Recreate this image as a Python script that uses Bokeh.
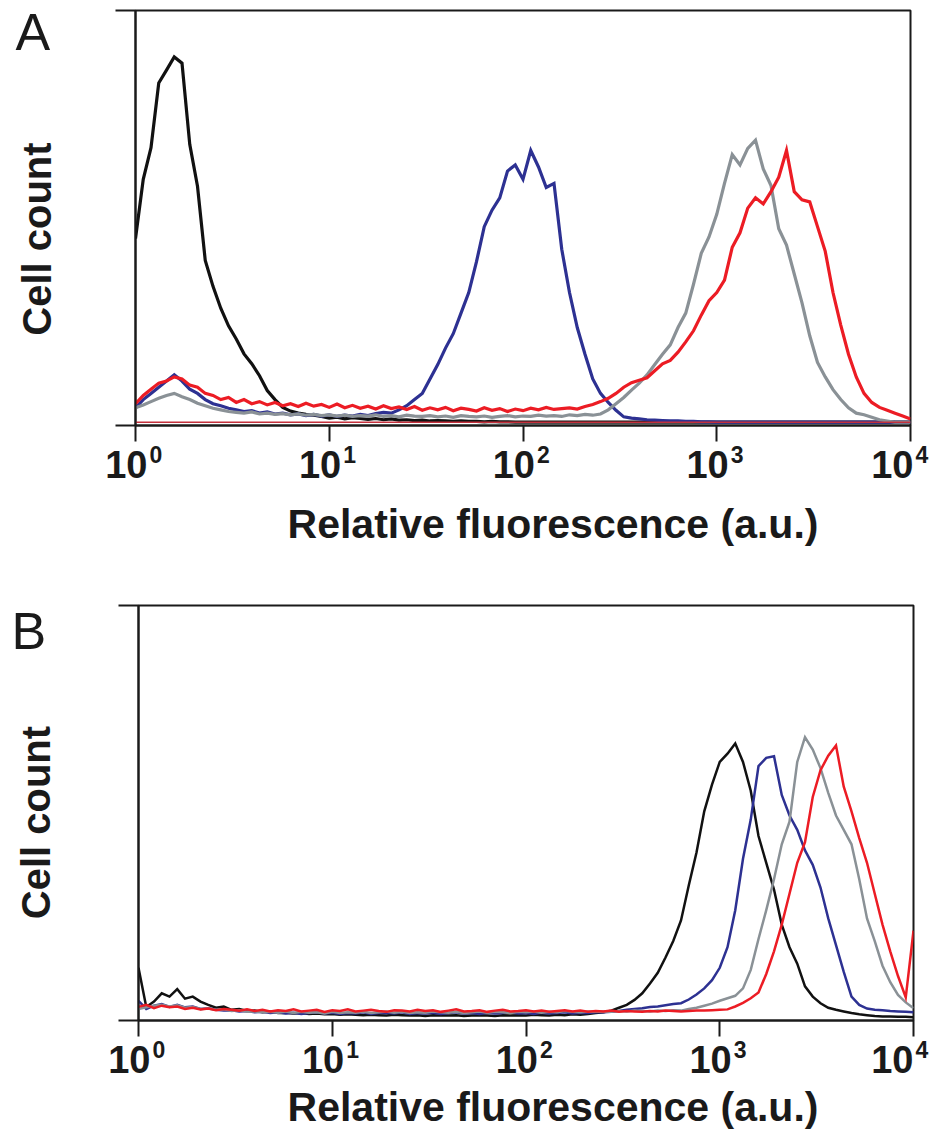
import math
from bokeh.plotting import figure
from bokeh.models import Range1d, FixedTicker, LinearScale
from bokeh.layouts import column, row
from bokeh.core.properties import value
from bokeh.embed import file_html
from bokeh.resources import INLINE

# ---------------- data ----------------
# log10 of relative fluorescence for each histogram channel bin
log10_fluor = [
    0.00, 0.04, 0.08, 0.12, 0.16, 0.20, 0.24, 0.28, 0.32, 0.36,
    0.40, 0.44, 0.48, 0.52, 0.56, 0.60, 0.64, 0.68, 0.72, 0.76,
    0.80, 0.84, 0.88, 0.92, 0.96, 1.00, 1.04, 1.08, 1.12, 1.16,
    1.20, 1.24, 1.28, 1.32, 1.36, 1.40, 1.44, 1.48, 1.52, 1.56,
    1.60, 1.64, 1.68, 1.72, 1.76, 1.80, 1.84, 1.88, 1.92, 1.96,
    2.00, 2.04, 2.08, 2.12, 2.16, 2.20, 2.24, 2.28, 2.32, 2.36,
    2.40, 2.44, 2.48, 2.52, 2.56, 2.60, 2.64, 2.68, 2.72, 2.76,
    2.80, 2.84, 2.88, 2.92, 2.96, 3.00, 3.04, 3.08, 3.12, 3.16,
    3.20, 3.24, 3.28, 3.32, 3.36, 3.40, 3.44, 3.48, 3.52, 3.56,
    3.60, 3.64, 3.68, 3.72, 3.76, 3.80, 3.84, 3.88, 3.92, 3.96,
    4.00,
]

# Panel A cell counts (relative, 0-100 = full frame height)
a_black = [
    44.6, 59.0, 66.7, 82.4, 85.5, 88.7, 87.2, 67.5, 57.3, 39.3,
    33.0, 27.7, 23.4, 20.2, 16.6, 14.2, 11.3, 7.7, 5.5, 3.6,
    2.7, 2.2, 1.9, 1.7, 1.4, 1.0, 1.2, 0.8, 1.1, 0.9,
    0.7, 0.9, 0.6, 0.8, 0.5, 0.6, 0.4, 0.5, 0.3, 0.4,
    0.3, 0.2, 0.3, 0.2, 0.2, 0.1, 0.2, 0.1, 0.1, 0.0,
    0.0, 0.0, 0.0, 0.0, 0.0, 0.0, 0.0, 0.0, 0.0, 0.0,
    0.0, 0.0, 0.0, 0.0, 0.0, 0.0, 0.0, 0.0, 0.0, 0.0,
    0.0, 0.0, 0.0, 0.0, 0.0, 0.0, 0.0, 0.0, 0.0, 0.0,
    0.0, 0.0, 0.0, 0.0, 0.0, 0.0, 0.0, 0.0, 0.0, 0.0,
    0.0, 0.0, 0.0, 0.0, 0.0, 0.0, 0.0, 0.0, 0.0, 0.0,
    0.0,
]
a_blue = [
    3.5, 5.5, 7.0, 8.5, 10.0, 11.5, 10.0, 8.0, 7.0, 5.5,
    4.5, 4.0, 3.4, 3.0, 2.6, 2.8, 2.2, 2.5, 2.0, 2.2,
    1.8, 2.0, 1.6, 1.9, 1.5, 1.8, 1.4, 1.7, 1.5, 1.9,
    1.6, 2.1, 2.4, 2.2, 3.0, 4.0, 5.5, 7.0, 10.5, 14.0,
    18.0, 21.5, 26.5, 31.5, 39.0, 47.5, 51.5, 54.5, 61.0, 62.5,
    59.0, 66.0, 62.0, 57.0, 58.0, 42.0, 31.5, 23.0, 16.5, 10.5,
    7.0, 4.8, 2.9, 1.3, 1.0, 0.8, 0.6, 0.5, 0.4, 0.3,
    0.3, 0.2, 0.2, 0.1, 0.1, 0.0, 0.0, 0.0, 0.0, 0.0,
    0.0, 0.0, 0.0, 0.0, 0.0, 0.0, 0.0, 0.0, 0.0, 0.0,
    0.0, 0.0, 0.0, 0.0, 0.0, 0.0, 0.0, 0.0, 0.0, 0.0,
    0.0,
]
a_gray = [
    3.5, 4.2, 5.0, 5.8, 6.5, 7.0, 6.2, 5.5, 4.6, 4.0,
    3.4, 3.0, 2.6, 2.4, 2.2, 2.5, 2.0, 2.2, 1.9, 2.1,
    1.8, 2.0, 1.7, 1.9, 1.6, 1.8, 1.5, 1.7, 1.4, 1.6,
    1.5, 1.8, 1.4, 1.6, 1.3, 1.7, 1.5, 1.4, 1.6, 1.3,
    1.5, 1.2, 1.6, 1.4, 1.3, 1.5, 1.2, 1.4, 1.6, 1.3,
    1.5, 1.4, 1.7, 1.5, 1.6, 1.4, 1.8, 1.6, 1.9, 1.7,
    2.0, 3.0, 4.5, 6.0, 7.8, 9.5, 11.5, 14.0, 16.5, 18.8,
    23.0, 26.5, 33.5, 41.0, 45.0, 50.5, 58.0, 65.0, 62.5, 66.5,
    68.5, 61.5, 57.5, 47.0, 43.0, 36.0, 29.0, 21.0, 14.5, 11.0,
    7.9, 5.5, 3.5, 2.2, 1.8, 1.2, 0.6, 0.3, 0.0, 0.0,
    0.0,
]
a_red = [
    4.5, 6.5, 8.0, 9.5, 10.0, 11.0, 10.5, 9.0, 8.5, 7.0,
    6.5, 5.5, 6.0, 4.8, 5.5, 4.5, 5.0, 4.2, 4.8, 4.0,
    4.5, 3.8, 4.6, 3.9, 4.3, 3.6, 4.4, 3.5, 4.1, 3.4,
    3.9, 3.2, 4.0, 3.3, 3.7, 3.1, 3.8, 2.9, 3.5, 3.0,
    3.6, 2.8, 3.4, 3.1, 2.7, 3.5, 2.9, 3.3, 2.6, 3.2,
    2.8, 3.4, 3.0, 3.6, 3.1, 3.3, 3.5, 3.2, 3.8, 4.3,
    5.0, 5.8, 7.0, 8.5, 9.6, 10.2, 10.8, 12.5, 14.2, 15.0,
    17.0, 19.5, 22.2, 26.0, 29.5, 31.5, 34.5, 42.5, 46.0, 52.0,
    54.5, 53.0, 56.0, 59.5, 66.0, 56.0, 54.0, 53.5, 47.5, 41.5,
    31.5, 23.6, 16.5, 11.0, 7.0, 4.8, 3.6, 2.9, 2.2, 1.5,
    0.8,
]

# Panel B cell counts
b_black = [
    12.0, 2.5, 3.8, 5.8, 5.0, 6.8, 4.5, 5.0, 3.8, 3.0,
    2.3, 2.6, 1.8, 2.0, 1.5, 1.6, 1.2, 1.4, 1.0, 1.1,
    0.9, 1.0, 0.8, 0.9, 0.7, 0.8, 0.6, 0.7, 0.6, 0.5,
    0.6, 0.5, 0.4, 0.6, 0.5, 0.4, 0.5, 0.3, 0.5, 0.4,
    0.4, 0.5, 0.3, 0.4, 0.5, 0.4, 0.3, 0.5, 0.4, 0.5,
    0.4, 0.6, 0.5, 0.4, 0.6, 0.5, 0.7, 0.6, 0.8, 1.0,
    1.2, 1.6, 2.3, 3.0, 4.2, 5.8, 8.2, 10.8, 14.5, 18.5,
    23.5, 32.0, 40.0, 50.0, 56.5, 62.0, 64.0, 66.5, 62.0, 55.0,
    44.0, 37.5, 31.0, 22.5, 17.0, 13.0, 7.5, 5.0, 3.4, 2.3,
    1.8, 1.4, 1.0, 0.7, 0.5, 0.3, 0.2, 0.2, 0.1, 0.1,
    0.0,
]
b_blue = [
    4.0, 2.0, 2.8, 3.2, 2.5, 3.0, 2.4, 2.6, 2.0, 2.2,
    1.8, 1.6, 1.7, 1.4, 1.5, 1.2, 1.3, 1.0, 1.2, 0.9,
    1.1, 0.8, 1.0, 1.2, 0.9, 1.1, 0.8, 1.0, 0.9, 1.2,
    0.8, 1.0, 1.1, 0.9, 1.2, 0.8, 1.0, 0.9, 1.1, 0.8,
    1.0, 1.2, 0.9, 1.0, 0.8, 1.1, 0.9, 1.0, 1.2, 0.9,
    1.0, 0.8, 1.1, 0.9, 1.0, 1.2, 0.9, 1.1, 1.0, 1.2,
    1.2, 1.3, 1.5, 1.8, 2.0, 2.2, 2.5, 2.6, 2.9, 3.2,
    3.4, 4.3, 5.5, 7.0, 9.0, 12.0, 17.0, 26.0, 38.5, 48.0,
    61.0, 63.0, 63.4, 54.0, 49.0, 45.5, 40.5, 37.0, 31.5, 24.0,
    17.5, 11.0, 5.0, 3.0, 2.1, 1.8, 1.7, 1.5, 1.4, 1.3,
    1.2,
]
b_gray = [
    2.0, 2.4, 2.8, 3.0, 2.6, 2.9, 2.3, 2.5, 2.0, 2.1,
    1.8, 1.9, 1.5, 1.7, 1.3, 1.4, 1.2, 1.3, 1.1, 1.4,
    1.0, 1.3, 1.1, 1.2, 0.9, 1.3, 1.0, 1.2, 1.1, 1.3,
    1.0, 1.2, 1.4, 1.1, 1.3, 1.0, 1.2, 1.1, 1.4, 1.2,
    1.1, 1.3, 1.0, 1.2, 1.4, 1.1, 1.3, 1.2, 1.0, 1.3,
    1.2, 1.4, 1.1, 1.3, 1.2, 1.5, 1.3, 1.2, 1.4, 1.3,
    1.4, 1.3, 1.5, 1.4, 1.6, 1.5, 1.4, 1.6, 1.5, 1.7,
    1.6, 2.0, 2.3, 2.8, 3.3, 4.0, 4.6, 5.2, 7.0, 11.5,
    19.0, 26.0, 33.5, 42.0, 47.5, 62.0, 68.0, 65.0, 60.5, 54.5,
    49.0, 45.5, 42.0, 33.5, 24.0, 18.5, 12.5, 8.5, 5.4, 3.6,
    2.2,
]
b_red = [
    2.5, 3.0, 2.2, 2.8, 2.4, 2.6, 2.0, 2.3, 1.9, 2.1,
    1.7, 2.0, 1.8, 1.6, 1.9, 1.5, 1.8, 1.4, 1.7, 1.5,
    1.9, 1.4, 1.6, 1.8, 1.3, 1.7, 1.5, 1.9, 1.4, 1.6,
    1.8, 1.5, 1.3, 1.7, 1.6, 1.4, 1.8, 1.5, 1.7, 1.3,
    1.6, 1.9, 1.4, 1.5, 1.7, 1.3, 1.6, 1.8, 1.4, 1.5,
    1.7, 1.4, 1.6, 1.3, 1.5, 1.7, 1.4, 1.6, 1.3, 1.5,
    1.4, 1.6, 1.3, 1.5, 1.4, 1.3, 1.5, 1.4, 1.6, 1.5,
    1.4, 1.5, 1.6, 1.6, 1.7, 1.8, 1.9, 2.6, 3.5, 4.6,
    6.0, 10.5, 16.0, 22.5, 30.0, 37.5, 42.5, 53.5, 60.0, 63.5,
    66.0, 56.0, 50.0, 43.5, 37.5, 30.0, 22.5, 16.0, 10.0, 4.8,
    21.0,
]

tick_values = [1, 10, 100, 1000, 10000]
tick_base = "10"
tick_exponents = ["0", "1", "2", "3", "4"]
x_label = "Relative fluorescence (a.u.)"
y_label = "Cell count"

fluor = [10 ** v for v in log10_fluor]

# ---------------- style / geometry ----------------
INK = "#1a1a1a"
C_BLACK = "#111111"
C_BLUE = "#2d3192"
C_GRAY = "#8a9196"
C_RED = "#ec1c24"
FONT = value("Liberation Sans")
Y0, Y1 = -0.8, 100.0
W = 930          # total width
LW = 60          # width of the strip holding panel letter + y title
FW, FH = 775, 415
DEC = FW / 4.0   # pixels per decade
MID = 0.35       # distance baseline -> text middle, in em


def strip(width, height, **kw):
    s = figure(width=width, height=height, min_border=0, title=None,
               x_axis_location=None, y_axis_location=None,
               toolbar_location=None, output_backend="svg",
               outline_line_color=None, background_fill_color="white",
               border_fill_color="white", **kw)
    s.grid.visible = False
    return s


def main_panel(series, lw, b_left, b_top, height, red_base=False):
    p = figure(
        width=W - LW, height=height, title=None,
        x_axis_type="log",
        x_range=Range1d(1, 10000),
        y_range=Range1d(Y0, Y1),
        min_border_left=b_left, min_border_top=b_top,
        min_border_bottom=height - b_top - FH,
        min_border_right=W - LW - b_left - FW,
        output_backend="svg", toolbar_location=None,
        background_fill_color="white", border_fill_color="white",
    )
    p.xgrid.visible = False
    p.ygrid.visible = False
    p.outline_line_color = INK
    p.outline_line_width = 2

    xa = p.xaxis[0]
    xa.ticker = FixedTicker(ticks=tick_values, minor_ticks=[])
    xa.major_label_overrides = {t: "" for t in tick_values}
    xa.major_label_text_font_size = "1px"
    xa.major_label_standoff = 0
    xa.axis_line_color = INK
    xa.axis_line_width = 2
    xa.major_tick_line_color = INK
    xa.major_tick_line_width = 2
    xa.major_tick_out = 16
    xa.major_tick_in = 0
    xa.minor_tick_out = 0
    xa.minor_tick_in = 0

    ya = p.yaxis[0]
    ya.ticker = FixedTicker(ticks=[Y0, Y1], minor_ticks=[])
    ya.major_label_overrides = {Y0: "", Y1: ""}
    ya.major_label_text_font_size = "1px"
    ya.major_label_standoff = 0
    ya.axis_line_color = INK
    ya.axis_line_width = 2
    ya.major_tick_line_color = INK
    ya.major_tick_line_width = 2
    ya.major_tick_out = 20
    ya.major_tick_in = 0
    ya.minor_tick_out = 0
    ya.minor_tick_in = 0

    for vals, color in series:
        p.line(fluor, vals, line_color=color, line_width=lw, line_join="miter")
    if red_base:
        p.line([fluor[0], fluor[-1]], [0, 0], line_color="#c4303c", line_width=1.5)
    return p


def left_strip(height, letter, letter_xy, ylab_xy):
    s = strip(LW, height, x_range=Range1d(0, LW), y_range=Range1d(0, height))
    # letter_xy: position of the letter's middle
    s.text(x=[letter_xy[0]], y=[letter_xy[1]], text=[letter], text_font=FONT,
           text_font_size=value("52px"), text_color=INK,
           text_align="left", text_baseline="middle")
    s.text(x=[ylab_xy[0]], y=[ylab_xy[1]], text=[y_label], text_font=FONT,
           text_font_size=value("40px"), text_font_style="bold", text_color=INK,
           angle=math.pi / 2, text_align="center", text_baseline="middle")
    return s


def bottom_strip(height, frame_left, base_y, exp_y, xlab_xy, base_off, exp_off):
    s = strip(W, height,
              x_axis_type="log",
              x_range=Range1d(10 ** (-frame_left / DEC), 10 ** ((W - frame_left) / DEC)),
              y_range=Range1d(0, height))
    s.extra_x_ranges = {"px": Range1d(0, W)}
    s.extra_x_scales = {"px": LinearScale()}
    n = len(tick_values)
    s.text(x=tick_values, y=[base_y + MID * 38] * n, text=[tick_base] * n, text_font=FONT,
           text_font_size=value("38px"), text_font_style="bold", text_color=INK,
           text_align="right", text_baseline="middle", x_offset=base_off)
    s.text(x=tick_values, y=[exp_y + MID * 23] * n, text=tick_exponents, text_font=FONT,
           text_font_size=value("23px"), text_font_style="bold", text_color=INK,
           text_align="left", text_baseline="middle", x_offset=exp_off)
    s.text(x=[xlab_xy[0]], y=[xlab_xy[1] + MID * 41], text=[x_label], x_range_name="px",
           text_font=FONT, text_font_size=value("41px"), text_font_style="bold",
           text_color=INK, text_align="center", text_baseline="middle")
    return s


# Panel A  (rows: 0..443 main, 443..583 tick labels + x title)
mainA = main_panel([(a_black, C_BLACK), (a_blue, C_BLUE), (a_gray, C_GRAY), (a_red, C_RED)],
                   3.2, 75, 10, 443, red_base=True)
leftA = left_strip(443, "A", (15, 420), (36.5, 199))
stripA = bottom_strip(140, LW + 75, 106, 121, (552.5, 45),
                      [12, 12, 12, 12, 3], [14, 14, 14, 14, 5])

# Panel B  (rows: 583..1038 main, 1038..1131 tick labels + x title)
mainB = main_panel([(b_black, C_BLACK), (b_blue, C_BLUE), (b_gray, C_GRAY), (b_red, C_RED)],
                   2.5, 78, 22, 455)
leftB = left_strip(455, "B", (11, 427), (35, 217))
stripB = bottom_strip(93, LW + 78, 59, 74, (552.5, 10),
                      [12, 12, 12, 12, 0], [14, 14, 14, 14, 2])

layout = column(row(leftA, mainA), stripA, row(leftB, mainB), stripB)
open("out.html", "w").write(file_html(layout, INLINE))
